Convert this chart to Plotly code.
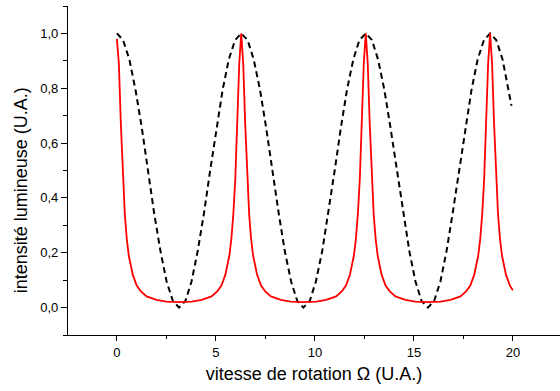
import plotly.graph_objects as go

# Red curve (sharp resonance peaks)
red_x = [0, 0.1, 0.2, 0.3, 0.4, 0.5, 0.6, 0.8, 1.0, 1.2, 1.5, 2.0, 2.5, 3.14,
         3.78, 4.28, 4.78, 5.08, 5.28, 5.48, 5.68, 5.78, 5.88, 5.98, 6.08, 6.18, 6.28,
         6.38, 6.48, 6.58, 6.68, 6.78, 6.88, 7.08, 7.28, 7.48, 7.78, 8.28, 8.78, 9.42,
         10.07, 10.57, 11.07, 11.37, 11.57, 11.77, 11.97, 12.07, 12.17, 12.27, 12.37, 12.47, 12.57,
         12.67, 12.77, 12.87, 12.97, 13.07, 13.17, 13.37, 13.57, 13.77, 14.07, 14.57, 15.07, 15.71,
         16.35, 16.85, 17.35, 17.65, 17.85, 18.05, 18.25, 18.35, 18.45, 18.55, 18.65, 18.75, 18.85,
         18.95, 19.05, 19.15, 19.25, 19.35, 19.45, 19.65, 19.85, 20.0]
red_y = [0.98, 0.89, 0.67, 0.47, 0.34, 0.25, 0.19, 0.12, 0.08, 0.06, 0.041, 0.028, 0.022, 0.02,
         0.022, 0.028, 0.041, 0.06, 0.08, 0.12, 0.19, 0.25, 0.34, 0.47, 0.67, 0.89, 1.0,
         0.89, 0.67, 0.47, 0.34, 0.25, 0.19, 0.12, 0.08, 0.06, 0.041, 0.028, 0.022, 0.02,
         0.022, 0.028, 0.041, 0.06, 0.08, 0.12, 0.19, 0.25, 0.34, 0.47, 0.67, 0.89, 1.0,
         0.89, 0.67, 0.47, 0.34, 0.25, 0.19, 0.12, 0.08, 0.06, 0.041, 0.028, 0.022, 0.02,
         0.022, 0.028, 0.041, 0.06, 0.08, 0.12, 0.19, 0.25, 0.34, 0.47, 0.67, 0.89, 1.0,
         0.89, 0.67, 0.47, 0.34, 0.25, 0.19, 0.12, 0.08, 0.063]

# Black dashed curve (smooth oscillation)
black_x = [0, 0.31, 0.63, 0.94, 1.26, 1.57, 1.88, 2.20, 2.51, 2.83, 3.14,
           3.46, 3.77, 4.08, 4.40, 4.71, 5.03, 5.34, 5.65, 5.97, 6.28,
           6.60, 6.91, 7.23, 7.54, 7.85, 8.17, 8.48, 8.80, 9.11, 9.42,
           9.74, 10.05, 10.37, 10.68, 11.00, 11.31, 11.62, 11.94, 12.25, 12.57,
           12.88, 13.19, 13.51, 13.82, 14.14, 14.45, 14.77, 15.08, 15.39, 15.71,
           16.02, 16.34, 16.65, 16.96, 17.28, 17.59, 17.91, 18.22, 18.54, 18.85,
           19.16, 19.48, 19.79, 19.93]
black_y = [1.0, 0.976, 0.905, 0.794, 0.655, 0.5, 0.345, 0.206, 0.095, 0.024, 0.0,
           0.024, 0.095, 0.206, 0.345, 0.5, 0.655, 0.794, 0.905, 0.976, 1.0,
           0.976, 0.905, 0.794, 0.655, 0.5, 0.345, 0.206, 0.095, 0.024, 0.0,
           0.024, 0.095, 0.206, 0.345, 0.5, 0.655, 0.794, 0.905, 0.976, 1.0,
           0.976, 0.905, 0.794, 0.655, 0.5, 0.345, 0.206, 0.095, 0.024, 0.0,
           0.024, 0.095, 0.206, 0.345, 0.5, 0.655, 0.794, 0.905, 0.976, 1.0,
           0.976, 0.905, 0.794, 0.736]

y_ticks = [0.0, 0.2, 0.4, 0.6, 0.8, 1.0]
x_ticks = [0, 5, 10, 15, 20]

FONT = "Liberation Sans, Arial, sans-serif"

fig = go.Figure()
fig.add_trace(go.Scatter(x=black_x, y=black_y, mode="lines",
                         line=dict(color="#000000", width=2, dash="6px,4px"),
                         showlegend=False))
fig.add_trace(go.Scatter(x=red_x, y=red_y, mode="lines",
                         line=dict(color="#ff0000", width=1.8),
                         showlegend=False))

axis_common = dict(showline=True, linecolor="#000000", linewidth=1.2,
                   showgrid=False, zeroline=False, ticks="outside",
                   tickcolor="#000000", tickwidth=1.2, mirror=False,
                   automargin=False,
                   tickfont=dict(family=FONT, size=13, color="#000000"))

fig.update_layout(
    width=560, height=391,
    margin=dict(l=68, r=0, t=6, b=56),
    paper_bgcolor="white", plot_bgcolor="white",
    separators=", ",
    xaxis=dict(range=[-2.47, 22.38], tickvals=x_ticks, ticklen=5,
               minor=dict(dtick=2.5, tick0=0, ticklen=3, ticks="outside", tickcolor="#000000", tickwidth=1.2),
               title=dict(text="vitesse de rotation Ω (U.A.)",
                          font=dict(family=FONT, size=18, color="#000000"),
                          standoff=8),
               **axis_common),
    yaxis=dict(range=[-0.1, 1.1], tickvals=y_ticks, tickformat=".1f", ticklen=6,
               minor=dict(dtick=0.1, tick0=0, ticklen=4, ticks="outside", tickcolor="#000000", tickwidth=1.2),
               **axis_common),
    annotations=[dict(text="intensité lumineuse (U.A.)", textangle=-90,
                      xref="paper", yref="paper", x=-0.0955, y=0.44,
                      xanchor="center", yanchor="middle", showarrow=False,
                      font=dict(family=FONT, size=18, color="#000000"))],
)

fig.write_html("out.html", config={"displayModeBar": False},
               post_script="document.body.style.margin='0';document.body.style.overflow='hidden';")
